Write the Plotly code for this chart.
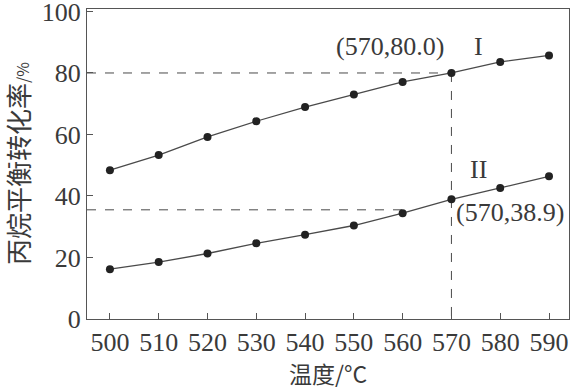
import plotly.graph_objects as go

temps = [500, 510, 520, 530, 540, 550, 560, 570, 580, 590]
conv_I = [48.4, 53.3, 59.2, 64.3, 68.9, 73.0, 77.1, 80.0, 83.6, 85.7]
conv_II = [16.2, 18.5, 21.3, 24.6, 27.4, 30.4, 34.4, 38.9, 42.6, 46.4]
x_ticks = [500, 510, 520, 530, 540, 550, 560, 570, 580, 590]
y_ticks = [0, 20, 40, 60, 80, 100]
ref_I = (570, 80.0)
ref_II = (570, 38.9)
dash_II_level = 35.5
dash_II_end = 560

serif = "Liberation Serif, Times New Roman, serif"
cjk = "Noto Sans CJK SC, sans-serif"
txt = "#3a3a3a"
line_c = "#4a4a4a"

fig = go.Figure()

# guide lines
fig.add_trace(go.Scatter(x=[495.3, ref_I[0]], y=[ref_I[1], ref_I[1]], mode="lines",
                         line=dict(color=line_c, width=1, dash="dash"), hoverinfo="skip", showlegend=False))
fig.add_trace(go.Scatter(x=[ref_I[0], ref_I[0]], y=[ref_I[1], 0], mode="lines",
                         line=dict(color=line_c, width=1, dash="dash"), hoverinfo="skip", showlegend=False))
fig.add_trace(go.Scatter(x=[495.3, dash_II_end], y=[dash_II_level, dash_II_level], mode="lines",
                         line=dict(color=line_c, width=1, dash="dash"), hoverinfo="skip", showlegend=False))

for ys in (conv_I, conv_II):
    fig.add_trace(go.Scatter(x=temps, y=ys, mode="lines+markers",
                             line=dict(color=line_c, width=1.3),
                             marker=dict(color="#222222", size=8),
                             showlegend=False))

fig.add_annotation(x=557.5, y=88.5, text="(570,80.0)", showarrow=False,
                   font=dict(family=serif, size=26, color=txt))
fig.add_annotation(x=575.5, y=88.5, text="I", showarrow=False,
                   font=dict(family=serif, size=26, color=txt))
fig.add_annotation(x=575.5, y=48.5, text="II", showarrow=False,
                   font=dict(family=serif, size=26, color=txt))
fig.add_annotation(x=582, y=34.5, text="(570,38.9)", showarrow=False,
                   font=dict(family=serif, size=26, color=txt))

# axis titles
fig.add_annotation(xref="paper", yref="paper", x=-70/482, y=0.5, textangle=-90,
                   xanchor="center", yanchor="middle",
                   text="丙烷平衡转化率<span style='font-size:16px'>/%</span>", showarrow=False,
                   font=dict(family=cjk, size=26, color=txt))
fig.add_annotation(xref="paper", yref="paper", x=0.5, y=-54/310,
                   xanchor="center", yanchor="middle",
                   text="温度/°C", showarrow=False,
                   font=dict(family=cjk + ", " + serif, size=23, color=txt))

axis_common = dict(showgrid=False, zeroline=False, showline=True, linecolor="#555555",
                   linewidth=1.3, mirror=True, ticks="inside", ticklen=6,
                   tickcolor="#555555", tickfont=dict(family=serif, size=26, color=txt),
                   automargin=False, ticklabeloverflow="allow")

fig.update_xaxes(range=[495.3, 594.1], tickvals=x_ticks, **axis_common)
fig.update_yaxes(range=[0, 100.8], tickvals=y_ticks, **axis_common)

fig.update_layout(width=574, height=389, margin=dict(l=87, r=5, t=9, b=70),
                  plot_bgcolor="white", paper_bgcolor="white")

fig.write_html("out.html", config={"displayModeBar": False},
               post_script="document.body.style.margin='0';document.body.style.overflow='hidden';")
